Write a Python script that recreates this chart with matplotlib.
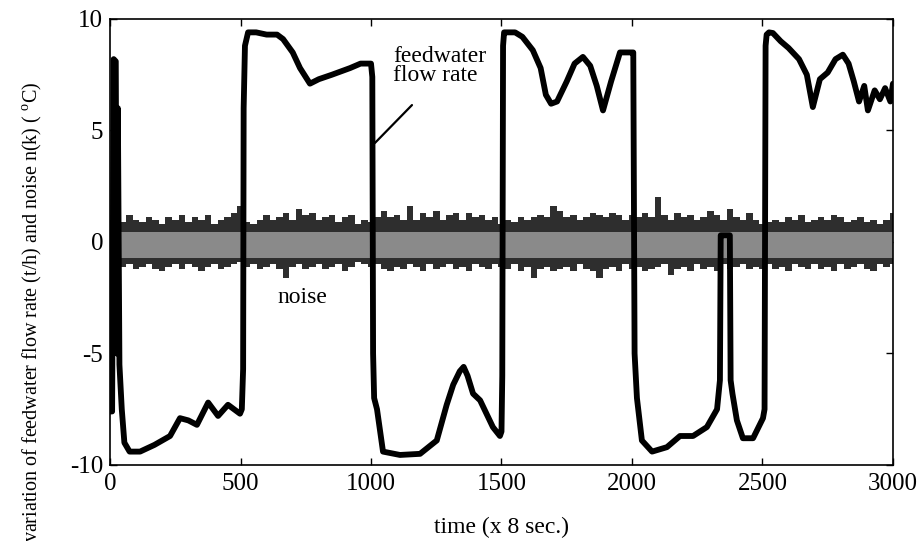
import numpy as np
import matplotlib.pyplot as plt

plt.rcParams['font.family'] = ['Liberation Serif', 'DejaVu Serif']
plt.rcParams['mathtext.fontset'] = 'custom'
plt.rcParams['mathtext.rm'] = 'Liberation Serif'
plt.rcParams['axes.unicode_minus'] = False

# feedwater flow rate (t/h)
flow_t = [0, 8, 14, 22, 26, 30, 36, 45, 55, 75, 115, 170, 230, 268, 300, 333, 376, 414, 452, 498, 505,
          510, 512, 517, 529, 560, 600, 640, 663, 700, 728, 766, 800, 850, 920, 960, 1000, 1005,
          1008, 1012, 1023, 1046, 1111, 1188, 1252, 1290, 1315, 1340, 1355, 1370, 1391, 1418, 1467, 1494, 1500,
          1503, 1506, 1510, 1525, 1552, 1580, 1620, 1650, 1670, 1690, 1713, 1750, 1780, 1812, 1840,
          1865, 1889, 1920, 1954, 2000, 2005,
          2010, 2019, 2038, 2077, 2134, 2184, 2234, 2287, 2326, 2337, 2340, 2345, 2360, 2375,
          2378, 2385, 2402, 2425, 2464, 2502, 2508,
          2512, 2516, 2525, 2540, 2570, 2600, 2640, 2670, 2693, 2720, 2750, 2780, 2808, 2830, 2850,
          2870, 2890, 2904, 2930, 2950, 2970, 2990, 3000]
flow_v = [-7.6, -7.6, 8.2, 8.1, -5.0, 6.0, -5.5, -7.5, -9.0, -9.4, -9.4, -9.1, -8.7, -7.9, -8.0, -8.2, -7.2, -7.8, -7.3, -7.7, -7.5,
          -5.7, 6.0, 8.8, 9.4, 9.4, 9.3, 9.3, 9.1, 8.5, 7.8, 7.1, 7.3, 7.5, 7.8, 8.0, 8.0, 7.4,
          -5.0, -7.0, -7.5, -9.4, -9.55, -9.5, -8.9, -7.3, -6.4, -5.8, -5.6, -6.0, -6.8, -7.1, -8.3, -8.7, -8.5,
          -6.0, 8.8, 9.4, 9.4, 9.4, 9.2, 8.6, 7.8, 6.6, 6.2, 6.3, 7.2, 8.0, 8.3, 7.9,
          7.0, 5.9, 7.2, 8.5, 8.5, 8.5,
          -5.0, -7.0, -8.9, -9.4, -9.2, -8.7, -8.7, -8.3, -7.5, -6.2, 0.3, 0.3, 0.3, 0.3,
          -6.2, -6.8, -8.0, -8.8, -8.8, -7.9, -7.5,
          8.8, 9.3, 9.4, 9.37, 9.0, 8.7, 8.2, 7.5, 6.05, 7.3, 7.6, 8.2, 8.4, 8.0, 7.2,
          6.3, 7.0, 5.9, 6.8, 6.4, 6.9, 6.3, 7.1]

# noise n(k) envelope, every 25 samples
noise_t = list(range(0, 3001, 25))
noise_hi = [1.0, 1.1, 0.9, 1.2, 1.0, 0.9, 1.1, 1.0, 0.8, 1.1,
            1.0, 1.2, 0.9, 1.1, 1.0, 1.2, 0.8, 1.0, 1.1, 1.3,
            1.6, 0.9, 0.8, 1.0, 1.2, 1.0, 1.1, 1.3, 1.0, 1.5,
            1.2, 1.3, 1.0, 1.1, 1.2, 0.9, 1.1, 1.2, 0.8, 1.0,
            0.9, 1.1, 1.4, 1.1, 1.2, 1.0, 1.6, 1.0, 1.3, 1.1,
            1.4, 1.0, 1.2, 1.3, 1.0, 1.3, 1.1, 1.2, 1.0, 1.1,
            0.8, 1.0, 0.9, 1.1, 1.0, 1.1, 1.2, 1.1, 1.6, 1.4,
            1.1, 1.2, 1.0, 1.1, 1.3, 1.2, 1.1, 1.3, 1.2, 1.0,
            1.2, 1.1, 1.3, 1.1, 2.0, 1.2, 1.0, 1.3, 1.1, 1.2,
            1.0, 1.1, 1.4, 1.2, 1.0, 1.5, 1.1, 1.0, 1.3, 1.0,
            0.8, 0.9, 1.0, 0.9, 1.1, 1.0, 1.2, 0.9, 1.0, 1.1,
            1.0, 1.2, 1.1, 0.9, 1.0, 1.1, 0.9, 1.0, 0.8, 1.0,
            1.3]
noise_lo = [-1.0, -1.3, -1.1, -1.0, -1.2, -1.1, -1.0, -1.2, -1.3, -1.1,
            -1.0, -1.2, -1.0, -1.1, -1.3, -1.1, -1.0, -1.2, -1.1, -1.0,
            -0.9, -1.1, -1.0, -1.2, -1.1, -1.0, -1.2, -1.6, -1.1, -1.0,
            -1.2, -1.1, -1.0, -1.2, -1.1, -1.0, -1.3, -1.1, -0.9, -1.0,
            -1.1, -1.0, -1.2, -1.3, -1.1, -1.2, -1.0, -1.1, -1.3, -1.0,
            -1.2, -1.1, -1.0, -1.2, -1.1, -1.3, -1.0, -1.1, -1.2, -1.0,
            -1.1, -1.2, -1.0, -1.3, -1.1, -1.6, -1.2, -1.1, -1.3, -1.2,
            -1.1, -1.3, -1.0, -1.2, -1.3, -1.6, -1.2, -1.1, -1.3, -1.0,
            -1.2, -1.1, -1.3, -1.2, -1.1, -1.0, -1.5, -1.2, -1.1, -1.3,
            -1.0, -1.2, -1.1, -1.3, -1.0, -1.2, -1.1, -1.0, -1.2, -1.1,
            -1.2, -1.0, -1.2, -1.1, -1.3, -1.0, -1.1, -1.2, -1.0, -1.2,
            -1.1, -1.3, -1.0, -1.2, -1.1, -1.0, -1.2, -1.3, -1.0, -1.1,
            -1.0]
noise_core = (-0.7, 0.45)

xticks = [0, 500, 1000, 1500, 2000, 2500, 3000]
yticks = [-10, -5, 0, 5, 10]

fig = plt.figure(figsize=(9.2, 5.41), dpi=100)
ax = fig.add_axes([0.1196, 0.1405, 0.851, 0.8244])

# noise band
ax.fill_between(noise_t, noise_lo, noise_hi, step='mid', color='#2e2e2e', lw=0, zorder=1)
ax.fill_between(noise_t, noise_core[0], noise_core[1], color='#8a8a8a', lw=0, zorder=2)

# feedwater flow rate
ax.plot(flow_t, flow_v, color='black', lw=4.2, solid_joinstyle='round', solid_capstyle='round', zorder=3)

ax.set_xlim(0, 3000)
ax.set_ylim(-10, 10)
ax.set_xticks(xticks)
ax.set_yticks(yticks)
ax.tick_params(direction='in', top=True, right=True, length=5, labelsize=18, width=1)
ax.tick_params(axis='x', pad=6)
ax.tick_params(axis='y', pad=5)
for s in ax.spines.values():
    s.set_linewidth(1.2)

ax.annotate('', xy=(1015, 4.44), xytext=(1157, 6.14),
            arrowprops=dict(arrowstyle='-', color='black', lw=1.6, shrinkA=0, shrinkB=0))
ax.text(1084, 7.9, 'feedwater\nflow rate', fontsize=17, ha='left', va='center', linespacing=0.85)
ax.text(640, -2.5, 'noise', fontsize=17, ha='left', va='center')

fig.text(0.5451, 1 - 527 / 541, 'time (x 8 sec.)', fontsize=17, ha='center', va='center')
fig.text(32 / 920, 1 - 312 / 541, r'variation of feedwater flow rate (t/h) and noise n(k) ( $^{\rm o}$C)',
         fontsize=14.5, rotation=90, ha='center', va='center')

fig.savefig('out.png', dpi=100)
